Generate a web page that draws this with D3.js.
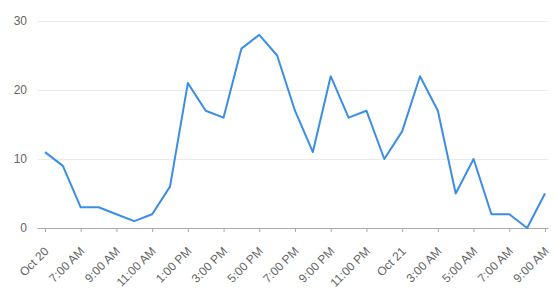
<!DOCTYPE html>
<html><head><meta charset="utf-8">
<script src="https://cdn.jsdelivr.net/npm/d3@7"></script>
<style>body{margin:0;background:#fff}svg{display:block}</style>
</head><body>
<svg id="c" width="558" height="292"></svg>
<script>
const startHour = 5; // Oct 20, 5:00 AM
const values = [11,9,3,3,2,1,2,6,21,17,16,26,28,25,17,11,22,16,17,10,14,22,17,5,10,2,2,0,5];
const tickLabels = ["Oct 20","7:00 AM","9:00 AM","11:00 AM","1:00 PM","3:00 PM","5:00 PM","7:00 PM","9:00 PM","11:00 PM","Oct 21","3:00 AM","5:00 AM","7:00 AM","9:00 AM"];
const yTicks = [0,10,20,30];

const times = values.map((v,i)=> new Date(2023,9,20,startHour+i));
const tickTimes = tickLabels.map((l,i)=> new Date(2023,9,20,startHour+2*i));

const svg = d3.select("#c");
const x = d3.scaleTime().domain([times[0], times[times.length-1]]).range([45,545]);
const y = d3.scaleLinear().domain([0,30]).range([228,21]);
const font = "'Liberation Sans', sans-serif";

// gridlines
svg.append("g").selectAll("line").data(yTicks.filter(d=>d>0)).join("line")
  .attr("x1",37).attr("x2",548).attr("y1",d=>y(d)+0.5).attr("y2",d=>y(d)+0.5)
  .attr("stroke","#ebebeb").attr("stroke-width",1);

// y labels
svg.append("g").selectAll("text").data(yTicks).join("text")
  .attr("x",27).attr("y",d=>y(d)).attr("dy","0.35em").attr("text-anchor","end")
  .attr("font-family",font).attr("font-size",12).attr("fill","#666")
  .text(d=>d);

// x axis
const xAxis = d3.axisBottom(x).tickValues(tickTimes).tickSize(4).tickFormat((d,i)=>tickLabels[i]);
const gx = svg.append("g").attr("transform","translate(0,228)").call(xAxis);
gx.select(".domain").attr("stroke","#aaa").attr("d","M37.5,0.5H548.5");
gx.selectAll(".tick line").attr("stroke","#aaa");
gx.selectAll(".tick text")
  .attr("font-family",font).attr("font-size",12).attr("fill","#666")
  .attr("text-anchor","end").attr("dy",null).attr("y",null)
  .attr("transform","translate(4,24) rotate(-45)");

// line
svg.append("path").datum(values)
  .attr("fill","none").attr("stroke","#3a8ee6").attr("stroke-width",2).attr("stroke-linejoin","round")
  .attr("d", d3.line().x((d,i)=>x(times[i])).y(d=>y(d)));
</script>
</body></html>
